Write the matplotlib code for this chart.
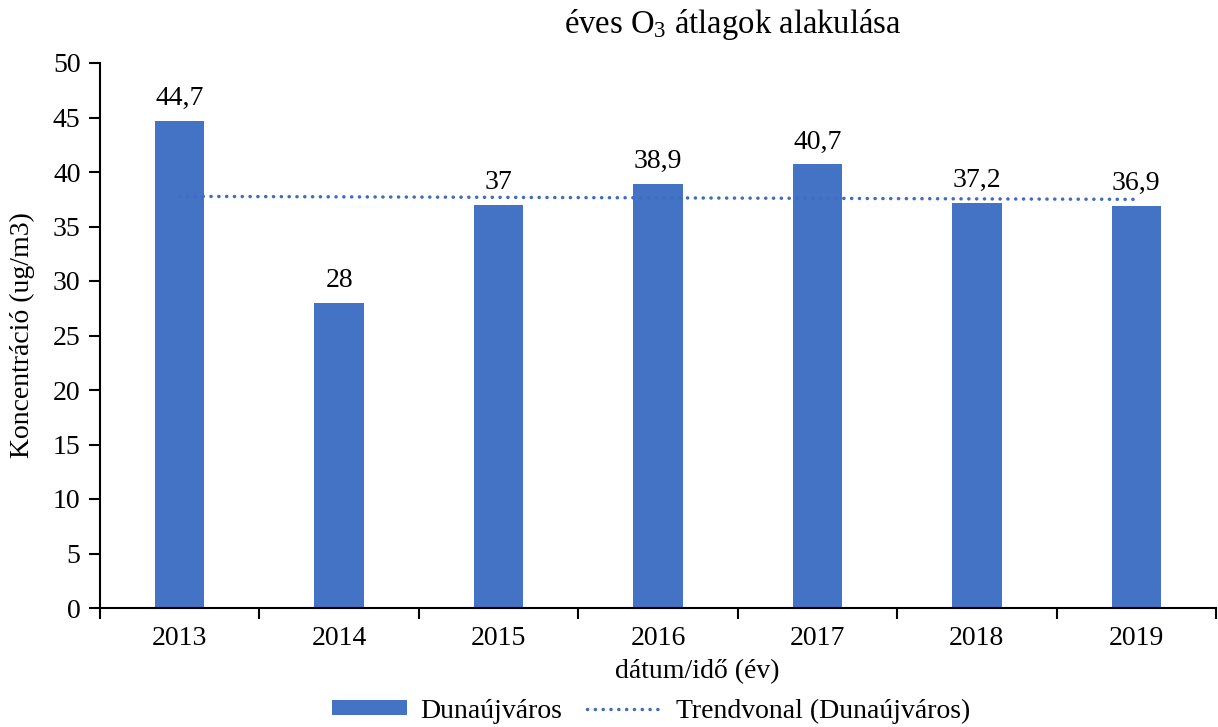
#!/usr/bin/env python3
"""Annual O3 averages in Dunaújváros, bar chart with linear trend line."""
import matplotlib as mpl
mpl.use('Agg')
import matplotlib.pyplot as plt
import numpy as np

years = ['2013', '2014', '2015', '2016', '2017', '2018', '2019']
o3_means = [44.7, 28, 37, 38.9, 40.7, 37.2, 36.9]
y_ticks = [0, 5, 10, 15, 20, 25, 30, 35, 40, 45, 50]

BLUE = '#4472C4'
FS = 20

plt.rcParams['font.family'] = ['Liberation Serif', 'DejaVu Serif']
plt.rcParams['mathtext.fontset'] = 'custom'
plt.rcParams['mathtext.rm'] = 'Liberation Serif'
plt.rcParams['mathtext.it'] = 'Liberation Serif:italic'


def comma(v):
	return '{:g}'.format(v).replace('.', ',')


def main():
	fig = plt.figure(figsize=(12.18, 7.27), dpi=100)
	ax = fig.add_axes([100 / 1218, 119 / 727, 1116 / 1218, 545 / 727])

	x = np.arange(len(years))
	bars = ax.bar(x, o3_means, width=0.31, color=BLUE, label='Dunaújváros', zorder=2)
	for b, v in zip(bars, o3_means):
		ax.annotate(comma(v), (b.get_x() + b.get_width() / 2, v), xytext=(0, 7),
			textcoords='offset points', ha='center', va='bottom', fontsize=FS)

	# linear trend, as Excel draws it
	slope, icpt = np.polyfit(x, o3_means, 1)
	trend, = ax.plot(x, slope * x + icpt, color='#3F6BC0', linestyle=(0, (0.05, 2.2)), linewidth=2.5,
		dash_capstyle='round', label='Trendvonal (Dunaújváros)', zorder=3)

	ax.set_xlim(-0.5, len(years) - 0.5)
	ax.set_ylim(0, 50)
	ax.set_yticks(y_ticks)
	ax.set_xticks(x)
	ax.set_xticklabels(years)
	ax.set_xticks(np.arange(len(years) + 1) - 0.5, minor=True)
	ax.tick_params(axis='x', which='major', length=0, pad=13, labelsize=FS)
	ax.tick_params(axis='x', which='minor', length=8, width=1.5, direction='out')
	ax.tick_params(axis='y', length=8, width=1.5, direction='out', labelsize=FS, pad=6)
	for side in ('top', 'right'):
		ax.spines[side].set_visible(False)
	for side in ('left', 'bottom'):
		ax.spines[side].set_linewidth(1.5)

	fig.text(733 / 1218, 1 - 25 / 727, 'éves O$_3$ átlagok alakulása', ha='center', va='center', fontsize=23.5)
	fig.text(697 / 1218, 1 - 672 / 727, 'dátum/idő (év)', ha='center', va='center', fontsize=FS)
	fig.text(22 / 1218, 1 - 335 / 727, 'Koncentráció (ug/m3)', ha='center', va='center',
		rotation=90, fontsize=FS)

	fig.legend(handles=[bars, trend], loc='center', bbox_to_anchor=(651 / 1218, 1 - 711 / 727),
		ncol=2, frameon=False, fontsize=FS, handlelength=2.7, handleheight=0.45,
		handletextpad=0.5, columnspacing=0.9)

	fig.savefig('out.png', dpi=100)


if __name__ == '__main__':
	main()
